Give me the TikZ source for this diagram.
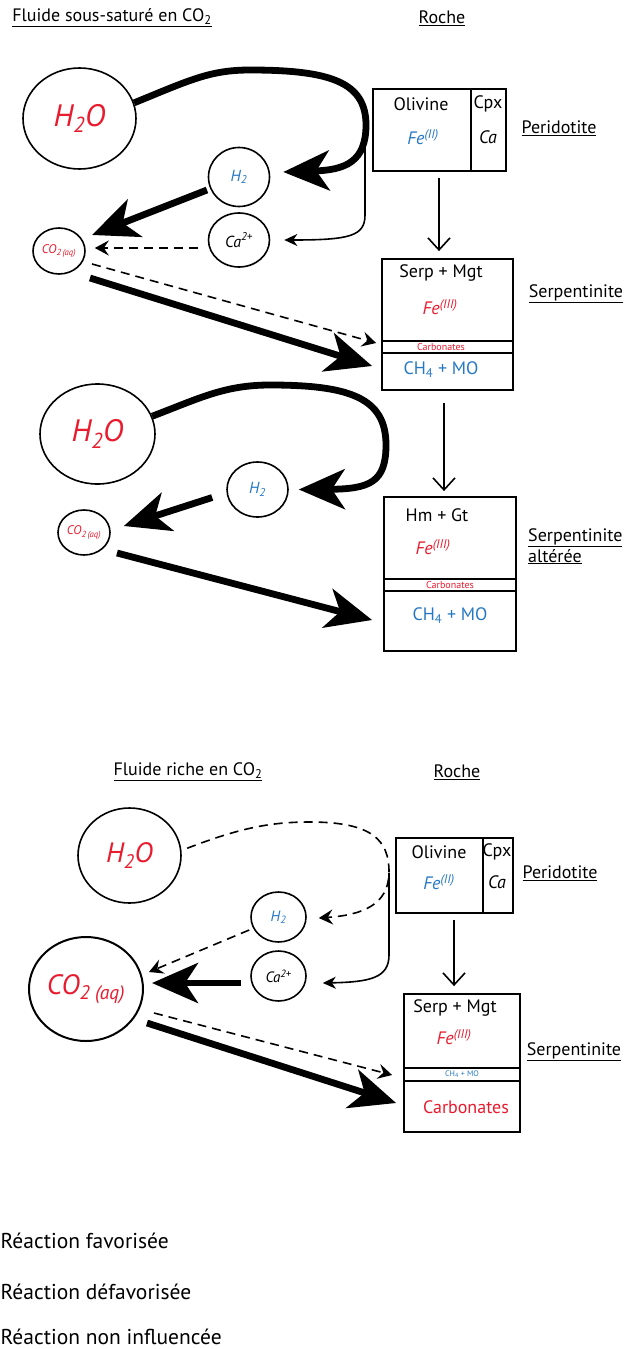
\documentclass[tikz,border=0pt]{standalone}
\usepackage{fontspec}
\setmainfont{PT Sans}
\usetikzlibrary{arrows.meta,shapes.geometric}
\definecolor{myred}{RGB}{232,28,46}
\definecolor{myblue}{RGB}{38,120,196}
\begin{document}
\begin{tikzpicture}[x=1pt,y=-1pt,
  bub/.style={ellipse,draw,line width=1.6pt,inner sep=0pt},
  box/.style={draw,line width=1.8pt,inner sep=0pt},
  sep/.style={line width=1.8pt},
  fav/.style={line width=6.8pt,-{Stealth[length=46pt,width=40pt,inset=13pt]}},
  defav/.style={line width=1.6pt,dash pattern=on 9pt off 6pt,-{Stealth[length=14pt,width=15pt,inset=5pt]}},
  neutral/.style={line width=1.6pt,-{Stealth[length=13pt,width=12pt,inset=4pt]}},
  trans/.style={line width=1.6pt,-{Straight Barb[length=12pt,width=22pt]}},
  lbl/.style={inner sep=0pt,font=\fontsize{18}{20}\selectfont},
  ttl/.style={inner sep=0pt,font=\fontsize{18}{20}\selectfont},
  big/.style={font=\fontsize{31}{31}\selectfont\itshape,text=myred},
  small/.style={font=\fontsize{16}{17}\selectfont\itshape},
  tiny/.style={inner sep=0pt,font=\fontsize{10}{11}\selectfont,text=myred},
  leg/.style={inner sep=0pt,anchor=west,font=\fontsize{21.5}{23}\selectfont}
]
\useasboundingbox (0,0) rectangle (627,1349);

% ================= TOP SECTION =================
\node[ttl] (titA) at (112,18) {\underline{Fluide sous-saturé en CO\textsubscript{2}}};
\node[ttl] (rocA) at (442,18) {\underline{Roche}};

\node[bub,big,minimum width=113pt,minimum height=101pt] (h2oA) at (79.5,118.5) {H\textsubscript{2}O};
\node[bub,small,text=myblue,minimum width=61pt,minimum height=59pt] (h2A) at (239,177) {H\textsubscript{2}};
\node[bub,small,minimum width=61pt,minimum height=54pt] (caA) at (239,240) {Ca\textsuperscript{2+}};
\node[bub,minimum width=52pt,minimum height=46pt,text=myred,font=\fontsize{12.5}{12}\selectfont\itshape] (co2A) at (59,251) {CO\textsubscript{2\,(aq)}};

\node[box,minimum width=133pt,minimum height=82pt] (perA) at (439.5,130) {};
\draw[sep] (471,89) -- (471,171);
\node[lbl] (olA) at (421,104) {Olivine};
\node[lbl,text=myblue] (fe2A) at (423,137) {\itshape Fe\textsuperscript{(II)}};
\node[lbl] (cpxA) at (488,104) {Cpx};
\node[lbl] (caxA) at (488,137) {\itshape Ca};
\node[lbl] (pdA) at (559,128) {\underline{Peridotite}};

\node[box,minimum width=131pt,minimum height=131pt] (serpA) at (447.5,324.5) {};
\draw[sep] (382,341) -- (513,341);
\draw[sep] (382,353) -- (513,353);
\node[lbl] (smA) at (441,273) {Serp + Mgt};
\node[lbl,text=myred] (fe3A) at (440,307) {\itshape Fe\textsuperscript{(III)}};
\node[tiny] (carbA) at (441,347) {Carbonates};
\node[lbl,text=myblue] (chA) at (441,370) {CH\textsubscript{4} + MO};
\node[lbl] (spA) at (576,294) {\underline{Serpentinite}};

\draw[fav] (h2oA.16) .. controls (190,80) and (210,70) .. (250,70)
   .. controls (330,70) and (366,82) .. (366,125)
   .. controls (366,162) and (345,170) .. ([shift={(13,-5)}]h2A.east);
\coordinate (jA) at (365,140);
\draw[neutral] (jA) -- (365,215) .. controls (365,236) and (350,240) .. ([shift={(14,0)}]caA.east);
\draw[fav] ([shift={(-32,13)}]h2A.center) -- ([shift={(33,-16)}]co2A.center);
\draw[defav] ([shift={(-10,8)}]caA.west) -- ([shift={(9,-3)}]co2A.east);
\draw[defav] ([shift={(33,13)}]co2A.center) -- ([shift={(-5,18.5)}]serpA.west);
\draw[fav] ([shift={(31,27)}]co2A.center) -- ([shift={(-9,41.5)}]serpA.west);
\draw[trans] ([shift={(-0.5,6)}]perA.south) -- ([shift={(-8.5,-7)}]serpA.north);

% ================= MIDDLE SECTION =================
\node[bub,big,minimum width=115pt,minimum height=100pt] (h2oB) at (97.5,434) {H\textsubscript{2}O};
\node[bub,small,text=myblue,minimum width=61pt,minimum height=55pt] (h2B) at (257.5,489.5) {H\textsubscript{2}};
\node[bub,minimum width=52pt,minimum height=45pt,text=myred,font=\fontsize{12.5}{12}\selectfont\itshape] (co2B) at (84,532.5) {CO\textsubscript{2\,(aq)}};

\node[box,minimum width=132pt,minimum height=154pt] (altB) at (450,574) {};
\draw[sep] (384,579) -- (516,579);
\draw[sep] (384,591) -- (516,591);
\node[lbl] (hmB) at (437,515) {Hm + Gt};
\node[lbl,text=myred] (fe3B) at (433,547) {\itshape Fe\textsuperscript{(III)}};
\node[tiny] (carbB) at (450,585) {Carbonates};
\node[lbl,text=myblue] (chB) at (450,616) {CH\textsubscript{4} + MO};
\node[lbl,anchor=north west,align=left,font=\fontsize{18}{21}\selectfont] (spB) at (528,528) {\underline{Serpentinite}\\\underline{altérée}};

\draw[fav] (h2oB.18) .. controls (200,398) and (225,385) .. (270,385)
   .. controls (350,385) and (386,398) .. (386,445)
   .. controls (386,482) and (370,489) .. ([shift={(10,0)}]h2B.east);
\draw[fav] ([shift={(-14,8)}]h2B.west) -- ([shift={(13,-6.5)}]co2B.east);
\draw[fav] ([shift={(33,20.5)}]co2B.center) -- ([shift={(-11,46)}]altB.west);
\draw[trans] ([shift={(-3.5,12)}]serpA.south) -- ([shift={(-6,-5)}]altB.north);

% ================= BOTTOM SECTION =================
\node[ttl] (titC) at (188,772) {\underline{Fluide riche en CO\textsubscript{2}}};
\node[ttl] (rocC) at (457,772) {\underline{Roche}};

\node[bub,big,font=\fontsize{28}{28}\selectfont\itshape,minimum width=103pt,minimum height=95pt] (h2oC) at (129.5,855.5) {H\textsubscript{2}O};
\node[bub,small,text=myblue,font=\fontsize{15}{15}\selectfont\itshape,minimum width=55pt,minimum height=50pt] (h2C) at (278.5,917) {H\textsubscript{2}};
\node[bub,small,font=\fontsize{15}{15}\selectfont\itshape,minimum width=55pt,minimum height=50pt] (caC) at (278.5,976) {Ca\textsuperscript{2+}};
\node[bub,big,font=\fontsize{28}{28}\selectfont\itshape,minimum width=114pt,minimum height=104pt,line width=2pt] (co2C) at (86,989) {CO\textsubscript{2 (aq)}};

\node[box,minimum width=117pt,minimum height=75pt] (perC) at (454.5,875.5) {};
\draw[sep] (483,838) -- (483,913);
\node[lbl] (olC) at (439,852) {Olivine};
\node[lbl,text=myblue] (fe2C) at (439,882) {\itshape Fe\textsuperscript{(II)}};
\node[lbl] (cpxC) at (497,852) {Cpx};
\node[lbl] (caxC) at (497,882) {\itshape Ca};
\node[lbl] (pdC) at (560,873) {\underline{Peridotite}};

\node[box,minimum width=116pt,minimum height=138pt] (serpC) at (462,1063) {};
\draw[sep] (404,1068) -- (520,1068);
\draw[sep] (404,1081) -- (520,1081);
\node[lbl] (smC) at (455,1008) {Serp + Mgt};
\node[lbl,text=myred] (fe3C) at (454,1037) {\itshape Fe\textsuperscript{(III)}};
\node[inner sep=0pt,font=\fontsize{8}{8}\selectfont,text=myblue] (chC) at (462,1074) {CH\textsubscript{4} + MO};
\node[lbl,text=myred] (carbC) at (466,1107) {Carbonates};
\node[lbl] (spC) at (574,1052) {\underline{Serpentinite}};

\draw[defav] ([shift={(6,0)}]h2oC.8) .. controls (240,828) and (270,822) .. (310,822)
   .. controls (372,822) and (389,840) .. (389,872)
   .. controls (389,905) and (362,915) .. ([shift={(12,1)}]h2C.east);
\coordinate (jC) at (389,873);
\draw[neutral] (jC) -- (389,955) .. controls (389,978) and (370,982) .. ([shift={(16,7)}]caC.east);
\draw[defav] ([shift={(-1,13)}]h2C.west) -- ([shift={(63,-17)}]co2C.center);
\draw[fav] ([shift={(-9,7)}]caC.west) -- ([shift={(8,-6)}]co2C.east);
\draw[defav] ([shift={(68,24)}]co2C.center) -- ([shift={(-11,12)}]serpC.west);
\draw[fav] ([shift={(61,34)}]co2C.center) -- ([shift={(-7,40)}]serpC.west);
\draw[trans] ([shift={(-0.5,6)}]perC.south) -- ([shift={(-8,-7)}]serpC.north);

% ================= LEGEND =================
\node[leg] (lg1) at (0.5,1241) {Réaction favorisée};
\node[leg] (lg2) at (0.5,1292) {Réaction défavorisée};
\node[leg] (lg3) at (0.5,1337) {Réaction non influencée};
\end{tikzpicture}
\end{document}
